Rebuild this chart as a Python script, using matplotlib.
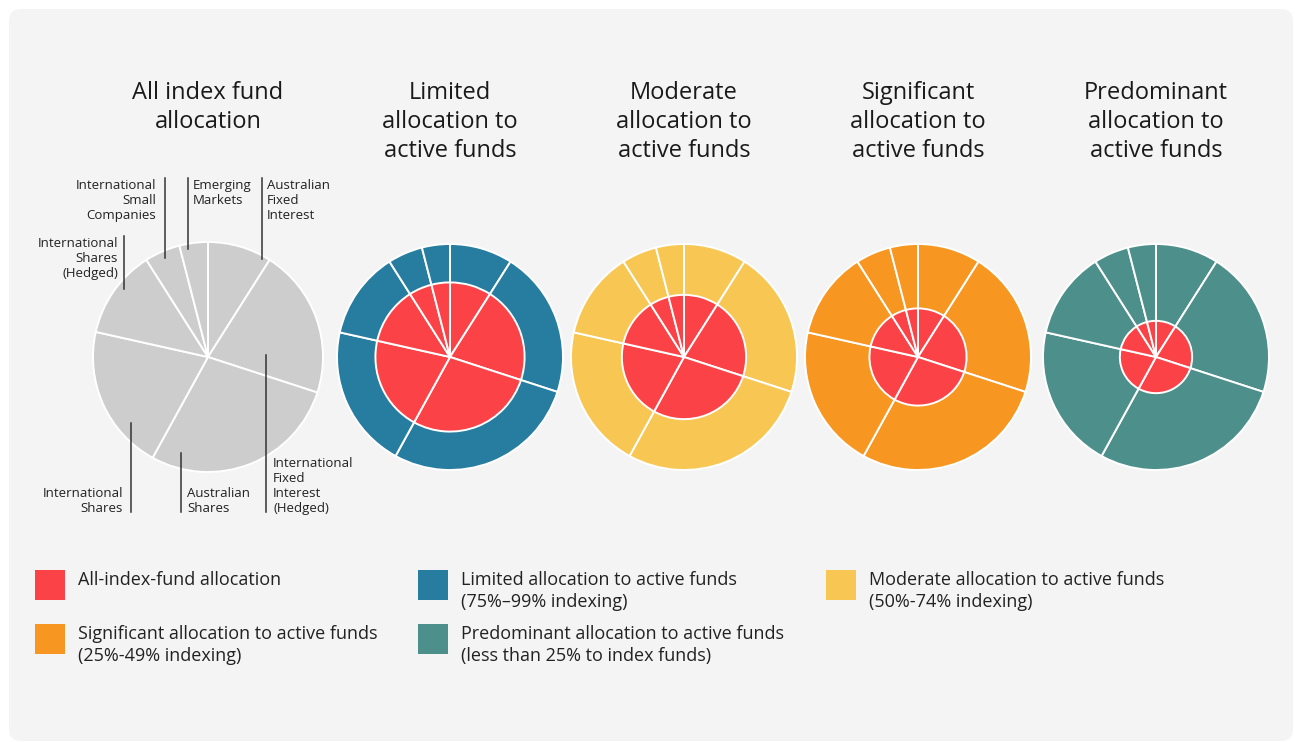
import matplotlib
matplotlib.use("Agg")
import matplotlib.pyplot as plt
from matplotlib.patches import FancyBboxPatch, Rectangle

plt.rcParams['font.family'] = ['Open Sans', 'DejaVu Sans']

# ---------------- data ----------------
asset_classes = ["Australian Fixed Interest", "International Fixed Interest (Hedged)",
                 "Australian Shares", "International Shares",
                 "International Shares (Hedged)", "International Small Companies",
                 "Emerging Markets"]
weights = [9, 21, 28, 20.5, 12.5, 5, 4]

panel_titles = ["All index fund\nallocation",
                "Limited\nallocation to\nactive funds",
                "Moderate\nallocation to\nactive funds",
                "Significant\nallocation to\nactive funds",
                "Predominant\nallocation to\nactive funds"]
ring_colors = ["#CDCDCD", "#277DA0", "#F8C652", "#F79621", "#4D8F8B"]
index_core_ratio = [None, 0.66, 0.55, 0.43, 0.32]   # radius of red all-index core / outer radius
index_color = "#FB4347"

legend_labels = ["All-index-fund allocation",
                 "Limited allocation to active funds\n(75%\u201399% indexing)",
                 "Moderate allocation to active funds\n(50%-74% indexing)",
                 "Significant allocation to active funds\n(25%-49% indexing)",
                 "Predominant allocation to active funds\n(less than 25% to index funds)"]
legend_colors = [index_color, "#277DA0", "#F8C652", "#F79621", "#4D8F8B"]

slice_labels = ["Australian\nFixed\nInterest", "International\nFixed\nInterest\n(Hedged)",
                "Australian\nShares", "International\nShares",
                "International\nShares\n(Hedged)", "International\nSmall\nCompanies",
                "Emerging\nMarkets"]

# ---------------- layout ----------------
W, H = 1295, 742
fig = plt.figure(figsize=(W / 100, H / 100), dpi=100, facecolor="white")
ax = fig.add_axes([0, 0, 1, 1])

def Y(y):
    return H - y

ax.add_patch(FancyBboxPatch((9, Y(741)), 1284, 732,
                            boxstyle="round,pad=0,rounding_size=12",
                            facecolor="#F4F4F4", edgecolor="none", zorder=0))

centers_x = [208, 450, 684, 918, 1156]
center_y = 357
outer_r = [115, 113, 113, 113, 113]

for i, cx in enumerate(centers_x):
    ax.pie(weights, colors=[ring_colors[i]] * len(weights), startangle=90,
           counterclock=False, center=(cx, Y(center_y)), radius=outer_r[i],
           wedgeprops=dict(edgecolor="white", linewidth=1.4), frame=True)
    if index_core_ratio[i] is not None:
        ax.pie(weights, colors=[index_color] * len(weights), startangle=90,
               counterclock=False, center=(cx, Y(center_y)),
               radius=outer_r[i] * index_core_ratio[i],
               wedgeprops=dict(edgecolor="white", linewidth=1.4), frame=True)
    ax.text(cx, Y(81), panel_titles[i], ha="center", va="top", fontsize=17,
            color="#1a1a1a", linespacing=1.29)

# leader lines & labels for first pie: (line_x, line_y0, line_y1, text_x, ha, anchor)
label_layout = [
    (262, 178, 259, 267, "left", "top"),
    (266, 355, 512, 273, "left", "bottom"),
    (181, 453, 512, 187, "left", "bottom"),
    (131, 423, 512, 123, "right", "bottom"),
    (124, 236, 289, 118, "right", "top"),
    (165, 178, 258, 156, "right", "top"),
    (188, 178, 249, 193, "left", "top"),
]
for lab, (lx, y0, y1, tx, ha, anc) in zip(slice_labels, label_layout):
    ax.plot([lx, lx], [Y(y0), Y(y1)], color="#333333", lw=1.1, zorder=5)
    ty = Y(y0) - 1 if anc == "top" else Y(y1) - 3
    ax.text(tx, ty, lab, ha=ha, va="top" if anc == "top" else "bottom",
            multialignment=ha, fontsize=9.5, color="#222222", linespacing=1.2)

# legend
leg_pos = [(35, 570), (418, 570), (826, 570), (35, 624), (418, 624)]
for lab, col, (lx, ly) in zip(legend_labels, legend_colors, leg_pos):
    ax.add_patch(Rectangle((lx, Y(ly + 30)), 30, 30, facecolor=col,
                           edgecolor="none", zorder=3))
    ax.text(lx + 43, Y(ly) - 1, lab, ha="left", va="top", fontsize=13,
            color="#222222", linespacing=1.3)

ax.set_xlim(0, W)
ax.set_ylim(0, H)
ax.set_aspect("equal")
ax.axis("off")

fig.savefig("out.png", dpi=100, facecolor="white")
